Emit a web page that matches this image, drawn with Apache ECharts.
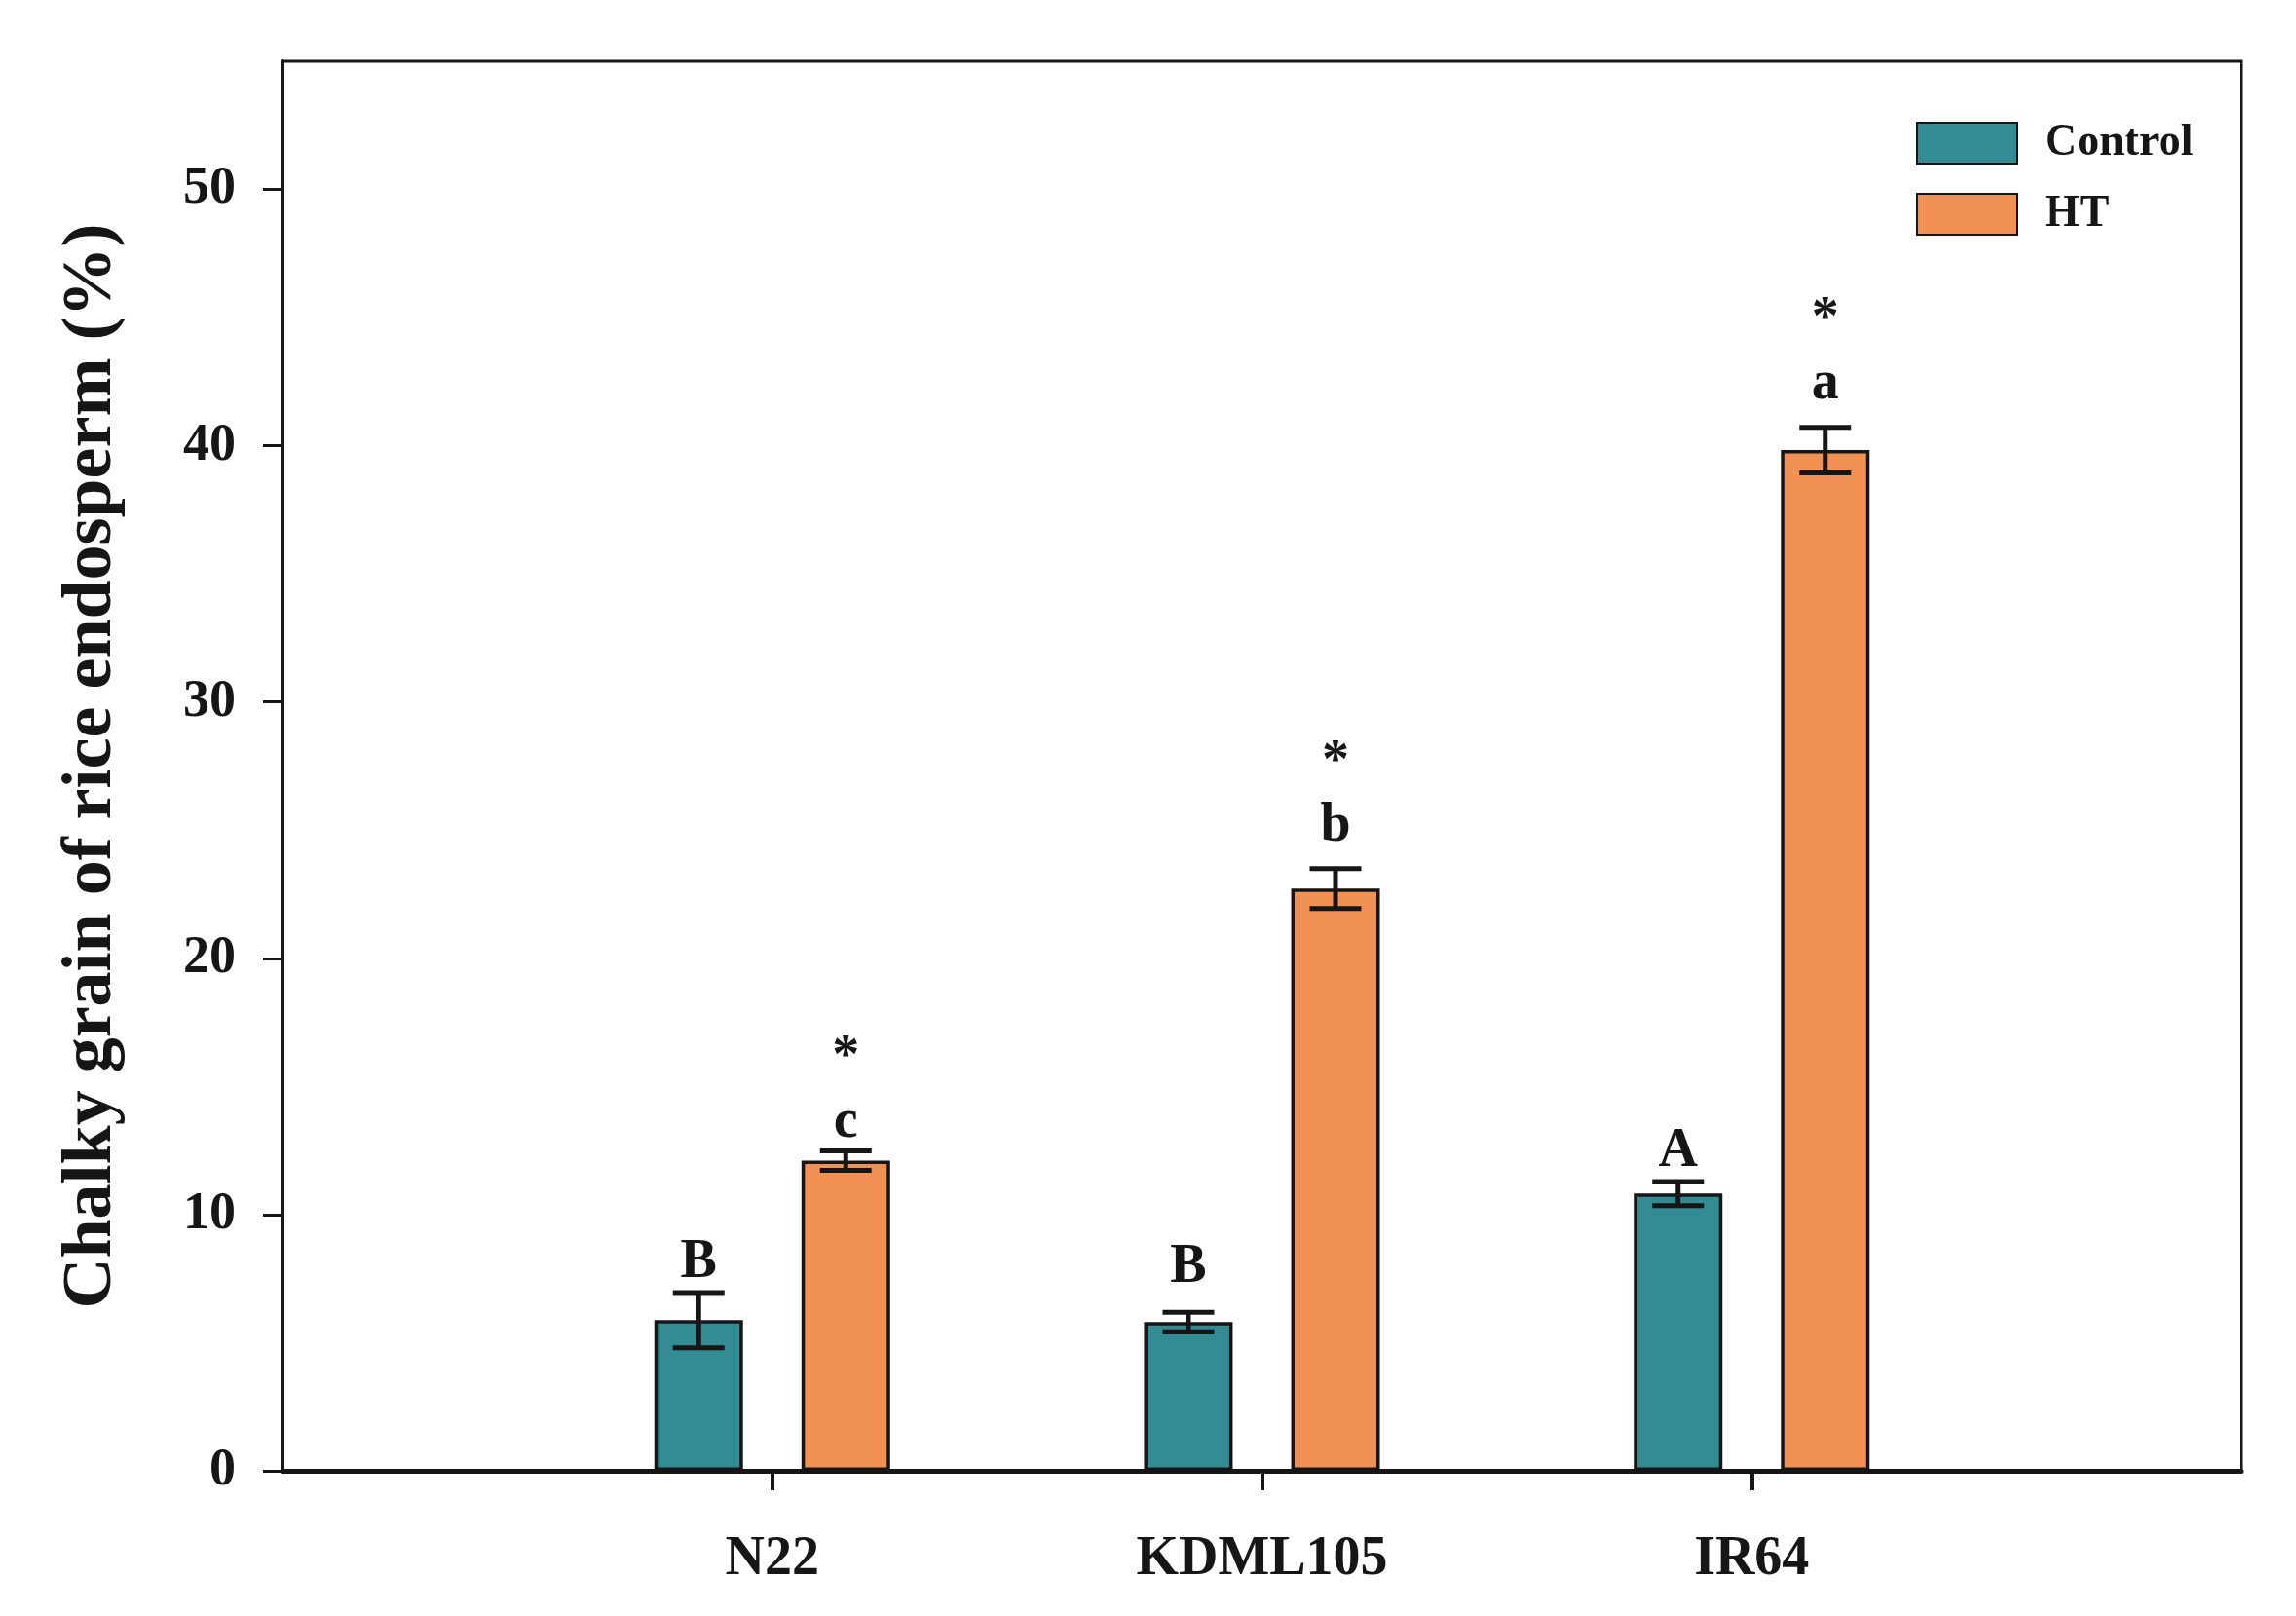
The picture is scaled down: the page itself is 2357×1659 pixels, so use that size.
<!DOCTYPE html>
<html>
<head>
<meta charset="utf-8">
<script src="https://cdn.jsdelivr.net/npm/echarts@6/dist/echarts.min.js"></script>
<style>
html,body{margin:0;padding:0;background:#fff;}
#chart{width:2357px;height:1659px;}
</style>
</head>
<body>
<div id="chart"></div>
<script>
// ---- data ----
var categories = ['', 'N22', 'KDML105', 'IR64', ''];
var cultivars = ['N22', 'KDML105', 'IR64'];
var controlMean = [5.88, 5.81, 10.82];
var controlErr = [1.08, 0.38, 0.47];
var htMean = [12.11, 22.72, 39.83];
var htErr = [0.38, 0.78, 0.89];
var controlLetters = ['B', 'B', 'A'];
var controlLetterY = [7.40, 7.21, 11.73];
var htLetters = ['c', 'b', 'a'];
var htLetterY = [12.87, 24.41, 41.69];
var htStars = ['*', '*', '*'];
var htStarY = [15.38, 26.88, 44.19];
var yTicks = [0, 10, 20, 30, 40, 50];

var FONT = '"Liberation Serif", "Times New Roman", serif';
var TEAL = '#338b94';
var ORANGE = '#f19153';
var DARK = '#161616';
var BAR_W = 91;
var OFFSET = 75.5;
var CAP_W = 53;
var FS = 56;

function padded(arr) { return ['-'].concat(arr).concat(['-']); }

function makeErr(mean, err, letters, letterY, stars, starY, dx) {
  var data = mean.map(function (m, i) { return [i + 1, m, err[i]]; });
  return {
    type: 'custom',
    z: 10,
    silent: true,
    data: data,
    renderItem: function (params, api) {
      var i = params.dataIndex;
      var x = api.value(0), m = api.value(1), e = api.value(2);
      var p = api.coord([x, m]);
      var cx = p[0] + dx;
      var hi = api.coord([x, m + e])[1];
      var lo = api.coord([x, m - e])[1];
      var st = { stroke: DARK, lineWidth: 5 };
      var children = [
        { type: 'line', shape: { x1: cx, y1: hi, x2: cx, y2: lo }, style: st },
        { type: 'line', shape: { x1: cx - CAP_W / 2, y1: hi, x2: cx + CAP_W / 2, y2: hi }, style: st },
        { type: 'line', shape: { x1: cx - CAP_W / 2, y1: lo, x2: cx + CAP_W / 2, y2: lo }, style: st }
      ];
      var ly = api.coord([x, letterY[i]])[1];
      children.push({ type: 'text', style: { text: letters[i], x: cx, y: ly - 0.34 * FS, align: 'center', verticalAlign: 'middle', fontFamily: FONT, fontWeight: 'bold', fontSize: FS, fill: DARK } });
      if (stars) {
        var sy = api.coord([x, starY[i]])[1];
        children.push({ type: 'text', style: { text: stars[i], x: cx, y: sy - 0.34 * FS, align: 'center', verticalAlign: 'middle', fontFamily: FONT, fontWeight: 'bold', fontSize: FS, fill: DARK } });
      }
      return { type: 'group', children: children };
    }
  };
}

var chart = echarts.init(document.getElementById('chart'), null, { renderer: 'canvas' });
chart.setOption({
  backgroundColor: '#ffffff',
  animation: false,
  grid: { left: 290, right: 56, top: 63, bottom: 149, show: true, borderColor: DARK, borderWidth: 3, backgroundColor: 'transparent' },
  legend: {
    data: ['Control', 'HT'],
    orient: 'vertical',
    left: 1967, top: 124,
    padding: 0,
    itemWidth: 103, itemHeight: 42, itemGap: 27,
    icon: 'rect',
    textStyle: { fontFamily: FONT, fontWeight: 'bold', fontSize: 46, color: DARK, padding: [0, 0, 0, 23] }
  },
  xAxis: {
    type: 'category',
    data: categories,
    boundaryGap: false,
    axisLine: { lineStyle: { color: DARK, width: 5 } },
    axisTick: { show: true, length: 20, lineStyle: { color: DARK, width: 4 }, interval: function (i, v) { return v !== ''; } },
    axisLabel: { interval: 0, margin: 64, fontFamily: FONT, fontWeight: 'bold', fontSize: 56, color: DARK },
    splitLine: { show: false }
  },
  yAxis: {
    type: 'value',
    min: 0, max: 55, interval: 10,
    name: 'Chalky grain of rice endosperm (%)',
    nameLocation: 'middle',
    nameGap: 160,
    nameTextStyle: { fontFamily: FONT, fontWeight: 'bold', fontSize: 72, color: DARK },
    axisLine: { show: true, lineStyle: { color: DARK, width: 4 } },
    axisTick: { show: true, length: 20, lineStyle: { color: DARK, width: 3 }, customValues: yTicks },
    axisLabel: { margin: 48, fontFamily: FONT, fontWeight: 'bold', fontSize: 54, color: DARK, customValues: yTicks },
    splitLine: { show: false }
  },
  series: [
    {
      name: 'Control', type: 'bar', data: padded(controlMean), barWidth: BAR_W, barGap: '66%',
      itemStyle: { color: TEAL, borderColor: DARK, borderWidth: 3.5 }
    },
    {
      name: 'HT', type: 'bar', data: padded(htMean), barWidth: BAR_W, barGap: '66%',
      itemStyle: { color: ORANGE, borderColor: DARK, borderWidth: 3.5 }
    },
    makeErr(controlMean, controlErr, controlLetters, controlLetterY, null, null, -OFFSET),
    makeErr(htMean, htErr, htLetters, htLetterY, htStars, htStarY, OFFSET)
  ]
});
</script>
</body>
</html>
